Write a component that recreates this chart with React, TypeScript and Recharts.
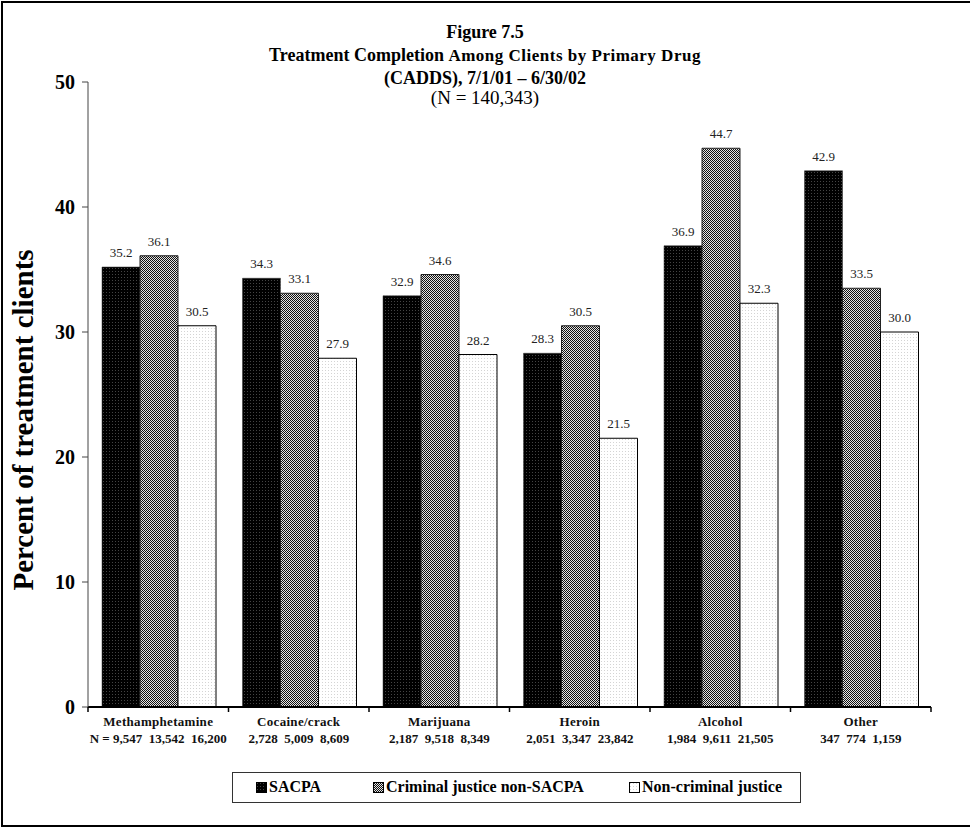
import { BarChart, Bar, XAxis, YAxis, LabelList } from "recharts";

const drugs = ["Methamphetamine", "Cocaine/crack", "Marijuana", "Heroin", "Alcohol", "Other"];
const clientCounts = [
  "N = 9,547  13,542  16,200",
  "2,728  5,009  8,609",
  "2,187  9,518  8,349",
  "2,051  3,347  23,842",
  "1,984  9,611  21,505",
  "347  774  1,159",
];
const sacpa = [35.2, 34.3, 32.9, 28.3, 36.9, 42.9];
const criminalJustice = [36.1, 33.1, 34.6, 30.5, 44.7, 33.5];
const nonCriminal = [30.5, 27.9, 28.2, 21.5, 32.3, 30.0];
const yTicks = [0, 10, 20, 30, 40, 50];

const seriesNames = ["SACPA", "Criminal justice non-SACPA", "Non-criminal justice"];

const data = drugs.map((drug, i) => ({
  drug,
  count: clientCounts[i],
  sacpa: sacpa[i],
  cj: criminalJustice[i],
  noncj: nonCriminal[i],
}));

const W = 970;
const H = 828;
const FONT = '"Liberation Serif", "Times New Roman", serif';
const margin = { top: 82, right: 39, bottom: 81, left: 38 };
const Y_AXIS_W = 50;
const PLOT_W = W - margin.left - margin.right - Y_AXIS_W;
const BAND = PLOT_W / drugs.length;

// x ticks sit at the category boundaries, labels in the middle
const DrugTick = (props: any) => {
  const { x, y, payload, index } = props;
  const i = index ?? drugs.indexOf(payload.value);
  const half = BAND / 2;
  return (
    <g>
      <line x1={x - half} y1={y} x2={x - half} y2={y + 5} stroke="#000" strokeWidth={1.5} />
      {i === drugs.length - 1 && (
        <line x1={x + half} y1={y} x2={x + half} y2={y + 5} stroke="#000" strokeWidth={1.5} />
      )}
      <text x={x} y={y + 19} textAnchor="middle" fontFamily={FONT} fontWeight="bold" fontSize={13} fill="#111" letterSpacing={0.3}>
        {payload.value}
      </text>
      <text
        x={x}
        y={y + 36}
        textAnchor="middle"
        fontFamily={FONT}
        fontWeight="bold"
        fontSize={13}
        fill="#111"
        style={{ whiteSpace: "pre" }}
      >
        {clientCounts[i]}
      </text>
    </g>
  );
};

const fmt = (v: any) => Number(v).toFixed(1);

const legendItems = [
  { name: seriesNames[0], fill: "url(#pSacpa)", sq: 256 },
  { name: seriesNames[1], fill: "url(#pCj)", sq: 373 },
  { name: seriesNames[2], fill: "url(#pNon)", sq: 629 },
];

export default function App() {
  return (
    <div
      style={{
        position: "absolute",
        left: 0,
        top: 0,
        width: W,
        height: H,
        overflow: "hidden",
        background: "#fff",
        fontFamily: FONT,
      }}
    >
      <div
        style={{
          position: "absolute",
          left: 1,
          top: 1,
          width: 1040,
          height: 826,
          boxSizing: "border-box",
          borderLeft: "2px solid #000",
          borderTop: "2px solid #000",
          borderBottom: "2px solid #000",
        }}
      />
      <BarChart
        width={W}
        height={H}
        data={data}
        margin={margin}
        barGap={0}
        barCategoryGap={14}
        style={{ position: "absolute", left: 0, top: 0 }}
      >
        <defs>
          <pattern id="pSacpa" width="3" height="3" patternUnits="userSpaceOnUse">
            <rect width="3" height="3" fill="#000" />
            <rect x="1" y="1" width="1" height="1" fill="#444" />
          </pattern>
          <pattern id="pCj" width="2" height="2" patternUnits="userSpaceOnUse">
            <rect width="2" height="2" fill="#e4e4e4" />
            <rect width="1" height="1" fill="#111" />
            <rect x="1" y="1" width="1" height="1" fill="#111" />
          </pattern>
          <pattern id="pNon" width="3" height="3" patternUnits="userSpaceOnUse">
            <rect width="3" height="3" fill="#fff" />
            <rect x="1" y="1" width="1" height="1" fill="#d4d4d4" />
          </pattern>
        </defs>
        <XAxis
          dataKey="drug"
          height={40}
          tickLine={false}
          tickSize={0}
          tickMargin={0}
          axisLine={{ stroke: "#000", strokeWidth: 2 }}
          tick={<DrugTick />}
          interval={0}
        />
        <YAxis
          width={Y_AXIS_W}
          domain={[0, 50]}
          ticks={yTicks}
          tickSize={6}
          tickMargin={7}
          axisLine={{ stroke: "#444" }}
          tickLine={{ stroke: "#444" }}
          tick={{ fontFamily: FONT, fontWeight: "bold", fontSize: 20, fill: "#000" }}
          interval={0}
        />
        <Bar dataKey="sacpa" name={seriesNames[0]} fill="url(#pSacpa)" stroke="#333" strokeWidth={0.5} isAnimationActive={false}>
          <LabelList dataKey="sacpa" position="top" offset={10} formatter={fmt} style={{ fontFamily: FONT, fontSize: 13, fill: "#222" }} />
        </Bar>
        <Bar dataKey="cj" name={seriesNames[1]} fill="url(#pCj)" stroke="#222" strokeWidth={1} isAnimationActive={false}>
          <LabelList dataKey="cj" position="top" offset={10} formatter={fmt} style={{ fontFamily: FONT, fontSize: 13, fill: "#222" }} />
        </Bar>
        <Bar dataKey="noncj" name={seriesNames[2]} fill="url(#pNon)" stroke="#000" strokeWidth={1} isAnimationActive={false}>
          <LabelList dataKey="noncj" position="top" offset={10} formatter={fmt} style={{ fontFamily: FONT, fontSize: 13, fill: "#222" }} />
        </Bar>
      </BarChart>

      <svg width={W} height={H} style={{ position: "absolute", left: 0, top: 0, pointerEvents: "none" }}>
        <g fontFamily={FONT} fill="#000" textAnchor="middle">
          <text x={485} y={38} fontSize={18} fontWeight="bold">Figure 7.5</text>
          <text x={485} y={61} fontWeight="bold">
            <tspan fontSize={18}>Treatment Completion </tspan>
            <tspan fontSize={17} letterSpacing={0.5}>Among Clients by Primary Drug</tspan>
          </text>
          <text x={485} y={84} fontSize={18} fontWeight="bold">(CADDS), 7/1/01 – 6/30/02</text>
          <text x={485} y={104} fontSize={19}>(N = 140,343)</text>
          <text transform="translate(33,420) rotate(-90)" fontSize={29} fontWeight="bold">
            Percent of treatment clients
          </text>
        </g>
      </svg>

      <div
        style={{
          position: "absolute",
          left: 232,
          top: 772,
          width: 569,
          height: 31,
          boxSizing: "border-box",
          border: "1px solid #333",
        }}
      />
      {legendItems.map((it) => (
        <div
          key={it.name}
          style={{
            position: "absolute",
            left: it.sq,
            top: 778,
            height: 18,
            display: "flex",
            alignItems: "center",
            fontWeight: "bold",
            fontSize: 16,
            whiteSpace: "nowrap",
          }}
        >
          <svg width={11} height={11} style={{ marginRight: 2 }}>
            <rect x={0.5} y={0.5} width={10} height={10} fill={it.fill} stroke="#000" strokeWidth={1} />
          </svg>
          {it.name}
        </div>
      ))}
    </div>
  );
}
